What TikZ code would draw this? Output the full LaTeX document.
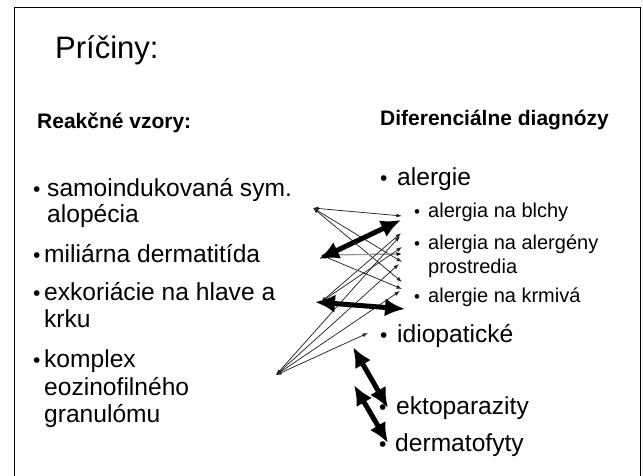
\documentclass[tikz,border=0pt]{standalone}
\usepackage{fontspec}
\setmainfont{Liberation Sans}
\usetikzlibrary{arrows.meta}
\begin{document}
\begin{tikzpicture}[x=1pt,y=-1pt,
  txt/.style={inner sep=0pt,anchor=base west,font=\fontsize{24.6}{28}\selectfont},
  sub/.style={inner sep=0pt,anchor=base west,font=\fontsize{20}{24}\selectfont},
  head/.style={inner sep=0pt,anchor=base west,font=\bfseries\fontsize{21}{24}\selectfont},
  bul/.style={inner sep=0pt,anchor=base west,font=\fontsize{21}{24}\selectfont},
  sbul/.style={inner sep=0pt,anchor=base west,font=\fontsize{17}{20}\selectfont},
  thin/.style={draw=black!85,line width=0.75pt,{Latex[length=5.5pt,width=4pt]}-{Latex[length=5.5pt,width=4pt]}},
  thingrey/.style={draw=black!40,line width=1.3pt,{Latex[length=5.5pt,width=4pt,black]}-{Latex[length=5.5pt,width=4pt,black]}},
  thick/.style={draw=black,line width=5pt,{Latex[length=20pt,width=18pt]}-{Latex[length=20pt,width=18pt]}},
]
\useasboundingbox (0,0) rectangle (643,475);
\draw[line width=1pt] (14,480) -- (14,7) -- (640,7) -- (640,480);

\node[inner sep=0pt,anchor=base west,font=\fontsize{31}{35}\selectfont] (title) at (55,58) {Príčiny:};
\node[head] (hl) at (37,128) {Reakčné vzory:};
\node[head] (hr) at (380,125) {Diferenciálne diagnózy};

% left list
\node[bul] (b1) at (33,196) {•};
\node[txt] (l1) at (47,196) {samoindukovaná sym.};
\node[txt] (l1b) at (47,222) {alopécia};
\node[bul] (b2) at (33,262) {•};
\node[txt] (l2) at (44,262) {miliárna dermatitída};
\node[bul] (b3) at (33,300) {•};
\node[txt] (l3) at (44,300) {exkoriácie na hlave a};
\node[txt] (l3b) at (44,327) {krku};
\node[bul] (b4) at (33,367) {•};
\node[txt] (l4) at (44,367) {komplex};
\node[txt] (l4b) at (44,395) {eozinofilného};
\node[txt] (l4c) at (44,422) {granulómu};

% right list
\node[bul] (rb1) at (380,185) {•};
\node[txt] (r1t) at (397,185) {alergie};
\node[sbul] (sb1) at (414,217) {•};
\node[sub] (s1) at (428,217) {alergia na blchy};
\node[sbul] (sb2) at (414,249) {•};
\node[sub] (s2) at (428,249) {alergia na alergény};
\node[sub] (s2b) at (428,273) {prostredia};
\node[sbul] (sb3) at (414,302) {•};
\node[sub] (s3) at (428,302) {alergie na krmivá};
\node[bul] (rb2) at (380,342) {•};
\node[txt] (r2t) at (397,342) {idiopatické};
\node[bul] (rb3) at (379,414) {•};
\node[txt] (r3t) at (396,414) {ektoparazity};
\node[bul] (rb4) at (379,451) {•};
\node[txt] (r4t) at (395,451) {dermatofyty};

% connector end points
\coordinate (A) at (313,208);
\coordinate (B) at (321,255);
\coordinate (C) at (321,302);
\coordinate (D) at (276,375);
\coordinate (q1) at (402,216);
\coordinate (q2) at (401,233);
\coordinate (q2b) at (400,236);
\coordinate (q3) at (402,247);
\coordinate (q4) at (402,254);
\coordinate (q5) at (402,262);
\coordinate (q5b) at (399,264);
\coordinate (q6) at (402,282);
\coordinate (q7) at (402,289);
\coordinate (q7b) at (400,291);
\coordinate (qi) at (368,333);

\draw[thin] (A) -- (q1);
\draw[thin] (A) -- (q5);
\draw[thin] (A) -- (q6);
\draw[thingrey] (B) -- (q4);
\draw[thin] (B) -- (q7);
\draw[thin] (C) -- (q2);
\draw[thin] (C) -- (q3);
\draw[thin] (D) -- (q2b);
\draw[thin] (D) -- (q5b);
\draw[thin] (D) -- (q7b);
\draw[thin] (D) -- (qi);

% thick arrows
\coordinate (B2) at (319,259);
\coordinate (T1) at (401,220);
\coordinate (C2) at (315,302);
\coordinate (T2) at (405,309);
\coordinate (I1) at (353,347);
\coordinate (E1) at (388,408);
\coordinate (E2) at (354,385);
\coordinate (F1) at (388,443);
\draw[thick] (B2) -- (T1);
\draw[thick] (C2) -- (T2);
\draw[thick] (I1) -- (E1);
\draw[thick] (E2) -- (F1);
\end{tikzpicture}
\end{document}
